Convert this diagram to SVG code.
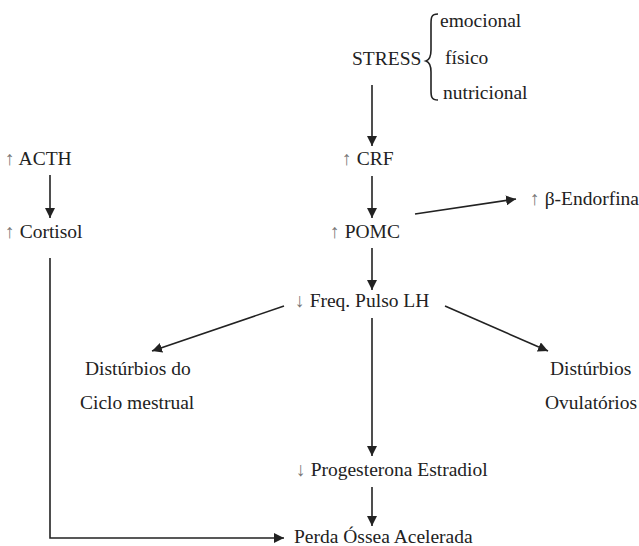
<svg xmlns="http://www.w3.org/2000/svg" width="639" height="546" viewBox="0 0 639 546">
<style>
.t{font-family:'Liberation Serif',serif;font-size:19.5px;fill:#222}
.g{fill:#777}
.c{stroke:#222;stroke-width:1.6;fill:none}
</style>
<defs>
<marker id="ah" viewBox="0 0 10 10" refX="10" refY="5" markerWidth="10" markerHeight="10" markerUnits="userSpaceOnUse" orient="auto">
<path d="M0,0 L10,5 L0,10 Z" fill="#222"/>
</marker>
</defs>
<rect width="639" height="546" fill="#fff"/>
<g id="stress">
<text class="t" x="352" y="65">STRESS</text>
<path d="M438,14 C431,14 431,18 431,24 L431,50 C431,57 429,60 426,61 C429,62 431,65 431,72 L431,90 C431,96 431,100 438,100" class="c" stroke-width="1.2"/>
<text class="t" x="440" y="27">emocional</text>
<text class="t" x="445" y="64">físico</text>
<text class="t" x="443" y="99">nutricional</text>
</g>
<g id="crf"><text class="t" x="342" y="165"><tspan class="g">↑</tspan> CRF</text></g>
<g id="pomc"><text class="t" x="330" y="238"><tspan class="g">↑</tspan> POMC</text></g>
<g id="endorfina"><text class="t" x="530" y="205"><tspan class="g">↑</tspan> β-Endorfina</text></g>
<g id="freq"><text class="t" x="295" y="307"><tspan class="g">↓</tspan> Freq. Pulso LH</text></g>
<g id="ciclo"><text class="t" x="85" y="375">Distúrbios do</text><text class="t" x="80" y="409">Ciclo mestrual</text></g>
<g id="ovul"><text class="t" x="550" y="375">Distúrbios</text><text class="t" x="545" y="409">Ovulatórios</text></g>
<g id="prog"><text class="t" x="296" y="476"><tspan class="g">↓</tspan> Progesterona Estradiol</text></g>
<g id="perda"><text class="t" x="294" y="543">Perda Óssea Acelerada</text></g>
<g id="acth"><text class="t" x="5" y="165"><tspan class="g">↑</tspan> ACTH</text></g>
<g id="cortisol"><text class="t" x="5" y="238"><tspan class="g">↑</tspan> Cortisol</text></g>
<g id="connectors" class="c">
<line x1="372" y1="85" x2="372" y2="146" marker-end="url(#ah)"/>
<line x1="372" y1="176" x2="372" y2="218" marker-end="url(#ah)"/>
<line x1="415" y1="214" x2="516" y2="199" marker-end="url(#ah)"/>
<line x1="372" y1="248" x2="372" y2="290" marker-end="url(#ah)"/>
<line x1="284" y1="306" x2="152" y2="351" marker-end="url(#ah)"/>
<line x1="445" y1="306" x2="548" y2="351" marker-end="url(#ah)"/>
<line x1="372" y1="318" x2="372" y2="456" marker-end="url(#ah)"/>
<line x1="372" y1="487" x2="372" y2="526" marker-end="url(#ah)"/>
<line x1="50" y1="175" x2="50" y2="218" marker-end="url(#ah)"/>
<polyline points="50,258 50,538 284,538" marker-end="url(#ah)"/>
</g>
</svg>
